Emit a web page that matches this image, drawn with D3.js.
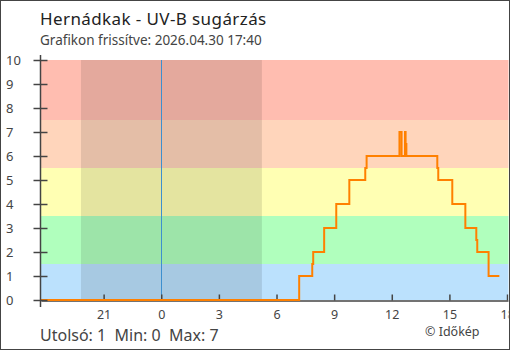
<!DOCTYPE html>
<html><head><meta charset="utf-8">
<script src="https://cdn.jsdelivr.net/npm/d3@7"></script>
<style>html,body{margin:0;padding:0;background:#fff}svg{display:block}</style>
</head><body>
<svg id="c" width="510" height="350"></svg>
<script>
// hours relative to midnight (negative = previous evening)
const stepHours = [-6.26, 7.18, 7.86, 7.91, 8.48, 9.11, 9.79, 10.62, 10.69, 12.40, 12.51, 12.69, 12.72, 12.76, 14.37, 14.42, 15.15, 15.83, 16.40, 16.45, 17.04, 17.60];
const uvValues  = [0, 1, 1.5, 2, 3, 4, 5, 5.5, 6, 7, 6, 7, 6.5, 6, 5.5, 5, 4, 3, 2.5, 2, 1, 1];
const bandLimits = [[0,1.5],[1.5,3.5],[3.5,5.5],[5.5,7.5],[7.5,10]];
const bandColors = ["#bbe1fd","#b0ffbd","#ffffb3","#ffd5bb","#ffbdb0"];
const nightSpan = [-4.18, 5.24];
const xTickHours = [-3, 0, 3, 6, 9, 12, 15, 18];
const yTicks = [0,1,2,3,4,5,6,7,8,9,10];
const title = "Hernádkak - UV-B sugárzás";
const subtitle = "Grafikon frissítve: 2026.04.30 17:40";
const footer = "Utolsó: 1  Min: 0  Max: 7";
const credit = "© Időkép";

const svg = d3.select("#c");
const x = d3.scaleLinear().domain([-6.26, 18.5]).range([41, 41 + 24.76 * 19.21]);
const y = d3.scaleLinear().domain([0, 10]).range([300, 60]);

svg.append("clipPath").attr("id","clip").append("rect").attr("x",0).attr("y",0).attr("width",508.5).attr("height",349);
const g = svg.append("g").attr("clip-path","url(#clip)");

// bands
g.selectAll("rect.band").data(bandLimits).join("rect")
  .attr("x", x.range()[0]).attr("width", x.range()[1]-x.range()[0])
  .attr("y", d => y(d[1])).attr("height", d => y(d[0]) - y(d[1]))
  .attr("fill", (d,i) => bandColors[i]);

// night shade
g.append("rect").attr("x", x(nightSpan[0])).attr("width", x(nightSpan[1]) - x(nightSpan[0]))
  .attr("y", y(10)).attr("height", y(0)-y(10)).attr("fill","rgba(0,0,0,0.105)");

// midnight line
g.append("line").attr("x1", Math.round(x(0))+0.5).attr("x2", Math.round(x(0))+0.5)
  .attr("y1", y(10)).attr("y2", y(0)).attr("stroke","#3d8fcf").attr("stroke-width",1);

// x axis
const xAxis = d3.axisBottom(x).tickValues(xTickHours).tickSizeInner(-6).tickSizeOuter(0)
  .tickFormat(h => String(h < 0 ? h + 24 : h));
const xg = g.append("g").attr("transform","translate(0,300.5)").call(xAxis);
xg.select(".domain").attr("stroke","#444").attr("stroke-width",1.5);
xg.selectAll(".tick line").attr("stroke","#444").attr("stroke-width",1.5);
xg.selectAll(".tick text").attr("y",10).attr("fill","#444")
  .style("font-family","'Noto Sans', sans-serif").style("font-size","12.5px");

// uv line
const line = d3.line().x((d,i) => x(stepHours[i])).y(d => y(d)).curve(d3.curveStepAfter);
g.append("path").datum(uvValues).attr("d", line).attr("fill","none")
  .attr("stroke","#ff8000").attr("stroke-width",2);

// y axis
const yAxis = d3.axisLeft(y).tickValues(yTicks).tickSize(0).tickFormat(d => d);
const yg = svg.append("g").attr("transform","translate(40.5,0)").call(yAxis);
yg.select(".domain").remove();
yg.append("line").attr("y1",55).attr("y2",307).attr("stroke","#444").attr("stroke-width",1.5);
yg.selectAll(".tick").append("line").attr("x1",-7).attr("x2",7).attr("stroke","#444").attr("stroke-width",1.5);
yg.selectAll(".tick text").attr("x",-34.5).attr("dy","0.35em").attr("text-anchor","start")
  .attr("fill","#444").style("font-family","'Noto Sans', sans-serif").style("font-size","13px");

// texts
svg.append("text").attr("x",40).attr("y",25).text(title)
  .attr("fill","#222").style("font-family","'Noto Sans', sans-serif").style("font-size","17px").style("letter-spacing","0.4px");
svg.append("text").attr("x",40).attr("y",45).text(subtitle)
  .attr("fill","#444").style("font-family","'Noto Sans', sans-serif").style("font-size","13.5px");
svg.append("text").attr("x",40).attr("y",341).text(footer).attr("xml:space","preserve").style("white-space","pre")
  .attr("fill","#444").style("font-family","'Noto Sans', sans-serif").style("font-size","16px");
svg.append("text").attr("x",425).attr("y",336).text(credit)
  .attr("fill","#444").style("font-family","'Noto Sans', sans-serif").style("font-size","12.5px");

// frame
svg.append("rect").attr("x",0.5).attr("y",0.5).attr("width",509).attr("height",349)
  .attr("fill","none").attr("stroke","#444").attr("stroke-width",1);
</script>
</body></html>
